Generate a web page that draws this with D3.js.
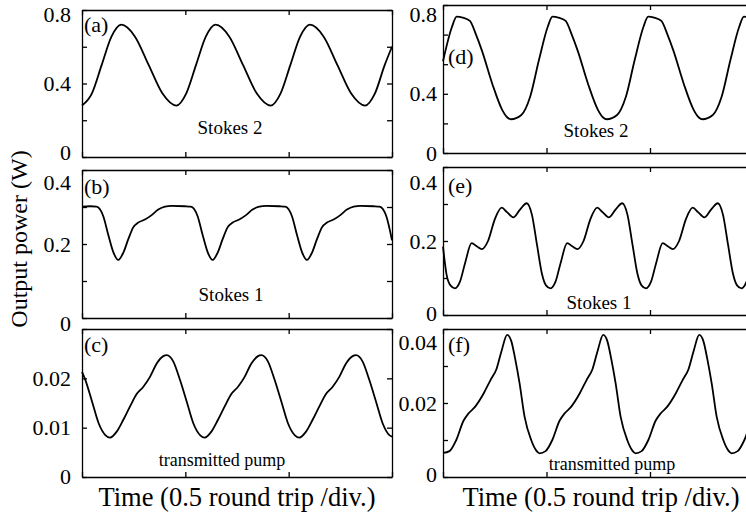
<!DOCTYPE html>
<html>
<head>
<meta charset="utf-8">
<script src="https://cdn.jsdelivr.net/npm/d3@7"></script>
<style>
  body { margin: 0; background: #fff; }
  svg { display: block; font-family: "Liberation Serif", "Times New Roman", serif; }
</style>
</head>
<body>
<div id="chart"></div>
<script>
// time axis in units of 0.5 round trip (one division)
const timeA = [0, 0.095, 0.19, 0.285, 0.38, 0.513, 0.646, 0.779, 0.913, 1.008, 1.103, 1.198, 1.293, 1.426, 1.559, 1.692, 1.826, 1.921, 2.016, 2.111, 2.206, 2.339, 2.472, 2.605, 2.739, 2.834, 2.929, 3.0];
const powerA = [0.28, 0.345, 0.50, 0.655, 0.72, 0.655, 0.50, 0.345, 0.28, 0.345, 0.50, 0.655, 0.72, 0.655, 0.50, 0.345, 0.28, 0.345, 0.50, 0.655, 0.72, 0.655, 0.50, 0.345, 0.28, 0.345, 0.50, 0.60];

const timeB = [0, 0.08, 0.141, 0.206, 0.254, 0.303, 0.351, 0.399, 0.448, 0.496, 0.545, 0.609, 0.674, 0.738, 0.803, 0.867, 0.996,
  1.054, 1.119, 1.167, 1.216, 1.264, 1.312, 1.361, 1.409, 1.458, 1.522, 1.587, 1.651, 1.716, 1.78, 1.909,
  1.967, 2.032, 2.08, 2.129, 2.177, 2.225, 2.274, 2.322, 2.371, 2.435, 2.5, 2.564, 2.629, 2.693, 2.822, 2.88, 2.945, 3.0];
const powerB = [0.301, 0.302, 0.301, 0.275, 0.225, 0.178, 0.157, 0.176, 0.213, 0.245, 0.258, 0.266, 0.278, 0.293, 0.301, 0.303, 0.302,
  0.301, 0.275, 0.225, 0.178, 0.157, 0.176, 0.213, 0.245, 0.258, 0.266, 0.278, 0.293, 0.301, 0.303, 0.302,
  0.301, 0.275, 0.225, 0.178, 0.157, 0.176, 0.213, 0.245, 0.258, 0.266, 0.278, 0.293, 0.301, 0.303, 0.302, 0.301, 0.275, 0.21];

const timeC = [0, 0.032, 0.097, 0.161, 0.226, 0.271, 0.336, 0.4, 0.465, 0.529, 0.594, 0.658, 0.723, 0.787, 0.819, 0.884, 0.948, 1.013, 1.077, 1.142,
  1.187, 1.252, 1.316, 1.381, 1.445, 1.51, 1.574, 1.639, 1.703, 1.735, 1.8, 1.864, 1.929, 1.993, 2.058,
  2.103, 2.168, 2.232, 2.297, 2.361, 2.426, 2.49, 2.555, 2.619, 2.651, 2.716, 2.78, 2.845, 2.909, 2.974, 3.0];
const powerC = [0.0213, 0.0197, 0.0153, 0.0109, 0.0085, 0.0080, 0.0092, 0.0116, 0.0143, 0.0168, 0.0183, 0.0203, 0.0230, 0.0245, 0.0247, 0.0234, 0.0197, 0.0153, 0.0109, 0.0085,
  0.0080, 0.0092, 0.0116, 0.0143, 0.0168, 0.0183, 0.0203, 0.0230, 0.0245, 0.0247, 0.0234, 0.0197, 0.0153, 0.0109, 0.0085,
  0.0080, 0.0092, 0.0116, 0.0143, 0.0168, 0.0183, 0.0203, 0.0230, 0.0245, 0.0247, 0.0234, 0.0197, 0.0153, 0.0109, 0.0085, 0.0082];

const timeD = [0, 0.087, 0.132, 0.19, 0.26, 0.319, 0.377, 0.475, 0.573, 0.622, 0.657,
  0.757, 0.842, 0.927, 1.012, 1.057, 1.115, 1.185, 1.244, 1.302, 1.4, 1.498, 1.547, 1.582,
  1.682, 1.767, 1.852, 1.937, 1.982, 2.04, 2.11, 2.169, 2.227, 2.325, 2.423, 2.472, 2.507,
  2.607, 2.692, 2.777, 2.862, 2.907, 2.965, 3.0];
const powerD = [0.62, 0.853, 0.921, 0.915, 0.893, 0.80, 0.69, 0.47, 0.29, 0.24, 0.228,
  0.257, 0.38, 0.628, 0.853, 0.921, 0.915, 0.893, 0.80, 0.69, 0.47, 0.29, 0.24, 0.228,
  0.257, 0.38, 0.628, 0.853, 0.921, 0.915, 0.893, 0.80, 0.69, 0.47, 0.29, 0.24, 0.228,
  0.257, 0.38, 0.628, 0.853, 0.921, 0.915, 0.905];

const timeE = [0, 0.034, 0.072, 0.116, 0.164, 0.213, 0.277, 0.329, 0.374, 0.435, 0.502, 0.567, 0.618, 0.679, 0.744, 0.809, 0.86, 0.908, 0.957, 0.995,
  1.039, 1.087, 1.136, 1.2, 1.252, 1.297, 1.358, 1.425, 1.49, 1.541, 1.602, 1.667, 1.732, 1.783, 1.831, 1.88, 1.918,
  1.962, 2.01, 2.059, 2.123, 2.175, 2.22, 2.281, 2.348, 2.413, 2.464, 2.525, 2.59, 2.655, 2.706, 2.754, 2.803, 2.841,
  2.885, 2.933, 2.982, 3.0];
const powerE = [0.185, 0.11, 0.08, 0.072, 0.09, 0.14, 0.194, 0.185, 0.178, 0.20, 0.26, 0.29, 0.278, 0.264, 0.285, 0.302, 0.27, 0.19, 0.11, 0.08,
  0.072, 0.09, 0.14, 0.194, 0.185, 0.178, 0.20, 0.26, 0.29, 0.278, 0.264, 0.285, 0.302, 0.27, 0.19, 0.11, 0.08,
  0.072, 0.09, 0.14, 0.194, 0.185, 0.178, 0.20, 0.26, 0.29, 0.278, 0.264, 0.285, 0.302, 0.27, 0.19, 0.11, 0.08,
  0.072, 0.09, 0.14, 0.16];

const timeF = [0, 0.063, 0.128, 0.198, 0.247, 0.305, 0.391, 0.459, 0.517, 0.565, 0.62, 0.659, 0.697, 0.74, 0.788, 0.852, 0.9,
  0.933, 0.991, 1.056, 1.126, 1.175, 1.233, 1.319, 1.387, 1.445, 1.493, 1.548, 1.587, 1.625, 1.668, 1.716, 1.78, 1.828,
  1.861, 1.919, 1.984, 2.054, 2.103, 2.161, 2.247, 2.315, 2.373, 2.421, 2.476, 2.515, 2.553, 2.596, 2.644, 2.708, 2.756,
  2.789, 2.847, 2.912, 2.982, 3.0];
const powerF = [0.0065, 0.0070, 0.0100, 0.0152, 0.0172, 0.0188, 0.0225, 0.0262, 0.0292, 0.0340, 0.0384, 0.0368, 0.0320, 0.0253, 0.0163, 0.0100, 0.0072,
  0.0064, 0.0070, 0.0100, 0.0152, 0.0172, 0.0188, 0.0225, 0.0262, 0.0292, 0.0340, 0.0384, 0.0368, 0.0320, 0.0253, 0.0163, 0.0100, 0.0072,
  0.0064, 0.0070, 0.0100, 0.0152, 0.0172, 0.0188, 0.0225, 0.0262, 0.0292, 0.0340, 0.0384, 0.0368, 0.0320, 0.0253, 0.0163, 0.0100, 0.0072,
  0.0064, 0.0070, 0.0100, 0.0152, 0.0160];

// y tick labels (value where the label sits, text shown)
const labelPosA = [0, 0.4, 0.8], labelTextA = ["0", "0.4", "0.8"];
const labelPosB = [0, 0.2, 0.4], labelTextB = ["0", "0.2", "0.4"];
const labelPosC = [0, 0.01, 0.02], labelTextC = ["0", "0.01", "0.02"];
const labelPosD = [0, 0.4, 1.0], labelTextD = ["0", "0.4", "0.8"];
const labelPosE = [0, 0.2, 0.4], labelTextE = ["0", "0.2", "0.4"];
const labelPosF = [0, 0.02, 0.04], labelTextF = ["0", "0.02", "0.04"];

const panelTags = ["(a)", "(b)", "(c)", "(d)", "(e)", "(f)"];
const panelNames = ["Stokes 2", "Stokes 1", "transmitted pump", "Stokes 2", "Stokes 1", "transmitted pump"];
const xTickValues = [0, 1, 2, 3];

const width = 746, height = 518;

const svg = d3.select("#chart")
  .append("svg")
    .attr("width", width)
    .attr("height", height)
    .attr("viewBox", [0, 0, width, height]);

/* panel boxes and small layout tweaks (pixels) */
const panels = [
  {time: timeA, power: powerA, pos: labelPosA, txt: labelTextA, yMax: 0.8, nTicks: 4, left: 82, right: 392, top: 10, bottom: 157,
   pad: 11, nudgeTop: 4.5, nudgeBot: -4.5, tagX: 2, tagY: 22, nameX: 230, nameY: 134, nameSize: 19},
  {time: timeB, power: powerB, pos: labelPosB, txt: labelTextB, yMax: 0.4, nTicks: 4, left: 82, right: 392, top: 170, bottom: 318,
   pad: 11, nudgeTop: 12, nudgeBot: 5, tagX: 2, tagY: 24, nameX: 231, nameY: 301, nameSize: 19},
  {time: timeC, power: powerC, pos: labelPosC, txt: labelTextC, yMax: 0.03, nTicks: 3, left: 82, right: 392, top: 329, bottom: 477,
   pad: 11, nudgeTop: 0, nudgeBot: -1, tagX: 2, tagY: 23, nameX: 222, nameY: 466, nameSize: 18},
  {time: timeD, power: powerD, pos: labelPosD, txt: labelTextD, yMax: 1.0, nTicks: 5, left: 443, right: 753.5, top: 5, bottom: 153,
   pad: 6, nudgeTop: 9, nudgeBot: 0, tagX: 5, tagY: 59, nameX: 596, nameY: 137, nameSize: 19},
  {time: timeE, power: powerE, pos: labelPosE, txt: labelTextE, yMax: 0.4, nTicks: 4, left: 443, right: 753.5, top: 167, bottom: 315,
   pad: 6, nudgeTop: 15, nudgeBot: -2, tagX: 5, tagY: 26, nameX: 599, nameY: 309, nameSize: 19},
  {time: timeF, power: powerF, pos: labelPosF, txt: labelTextF, yMax: 0.04, nTicks: 4, left: 443, right: 753.5, top: 329, bottom: 477,
   pad: 6, nudgeTop: 13, nudgeBot: -3, tagX: 5, tagY: 23, nameX: 612, nameY: 470, nameSize: 18}
];

panels.forEach((p, i) => {
  const x = d3.scaleLinear().domain([0, 3]).range([p.left, p.right]);
  const y = d3.scaleLinear().domain([0, p.yMax]).range([p.bottom, p.top]);
  const yTicks = d3.ticks(0, p.yMax, p.nTicks);
  const g = svg.append("g");

  const labelFor = d => {
    const k = p.pos.findIndex(v => Math.abs(v - d) < 1e-9);
    return k >= 0 ? p.txt[k] : "";
  };

  // frame + inward ticks on all four sides
  g.append("g").attr("transform", `translate(0,${p.bottom})`)
    .call(d3.axisBottom(x).tickValues(xTickValues).tickSizeInner(-5).tickSizeOuter(0).tickFormat(""));
  g.append("g").attr("transform", `translate(0,${p.top})`)
    .call(d3.axisTop(x).tickValues(xTickValues).tickSizeInner(-5).tickSizeOuter(0).tickFormat(""));
  g.append("g").attr("transform", `translate(${p.right},0)`)
    .call(d3.axisRight(y).tickValues(yTicks).tickSizeInner(-5).tickSizeOuter(0).tickFormat(""));
  const yAxis = g.append("g").attr("transform", `translate(${p.left},0)`)
    .call(d3.axisLeft(y).tickValues(d3.union(yTicks, p.pos)).tickSizeInner(-5).tickSizeOuter(0)
      .tickPadding(p.pad).tickFormat(labelFor));

  g.selectAll(".domain, .tick line")
    .attr("stroke", "#000")
    .attr("stroke-width", 1.3);
  // label positions that are not real ticks get no tick line
  yAxis.selectAll(".tick").filter(d => !yTicks.some(t => Math.abs(t - d) < 1e-9))
    .select("line").remove();

  yAxis.selectAll("text")
    .attr("font-family", "Liberation Serif, serif")
    .attr("font-size", 22)
    .attr("fill", "#000")
    .attr("y", d => Math.abs(d - p.pos[p.pos.length - 1]) < 1e-9 && d === p.yMax ? p.nudgeTop
                  : d === 0 ? p.nudgeBot : 0);

  const line = d3.line()
    .curve(d3.curveMonotoneX)
    .x((d, j) => x(p.time[j]))
    .y(d => y(d));

  g.append("path")
    .datum(p.power)
    .attr("d", line)
    .attr("fill", "none")
    .attr("stroke", "#000")
    .attr("stroke-width", 1.8);

  g.append("text")
    .attr("x", p.left + p.tagX)
    .attr("y", p.top + p.tagY)
    .attr("font-size", 22)
    .text(panelTags[i]);

  g.append("text")
    .attr("x", p.nameX)
    .attr("y", p.nameY)
    .attr("text-anchor", "middle")
    .attr("font-size", p.nameSize)
    .text(panelNames[i]);
});

// axis titles
svg.append("text")
  .attr("transform", "translate(27,239) rotate(-90)")
  .attr("text-anchor", "middle")
  .attr("font-size", 24)
  .text("Output power (W)");

svg.append("text")
  .attr("x", 237).attr("y", 506)
  .attr("text-anchor", "middle")
  .attr("font-size", 26.5)
  .text("Time (0.5 round trip /div.)");

svg.append("text")
  .attr("x", 601).attr("y", 506)
  .attr("text-anchor", "middle")
  .attr("font-size", 26.5)
  .text("Time (0.5 round trip /div.)");
</script>
</body>
</html>
